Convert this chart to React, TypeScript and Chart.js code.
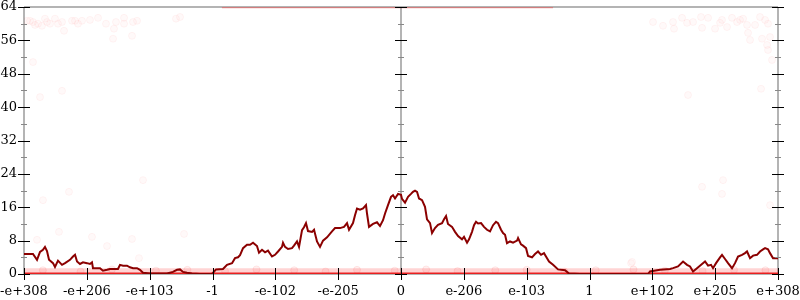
import React, { useEffect, useRef } from "react";
import { Chart, registerables } from "chart.js";

Chart.register(...registerables);

const xTickLabels = ["-e+308", "-e+206", "-e+103", "-1", "-e-102", "-e-205", "0", "e-206", "e-103", "1", "e+102", "e+205", "e+308"];
const yTicks = [0, 8, 16, 24, 32, 40, 48, 56, 64];

const lineX = [0, 0.143, 0.207, 0.255, 0.302, 0.334, 0.366, 0.398, 0.462, 0.493, 0.541, 0.605, 0.653, 0.732, 0.78, 0.812, 0.844, 0.891, 0.939, 1.003, 1.05, 1.082, 1.098, 1.21, 1.257, 1.321, 1.369, 1.496, 1.528, 1.576, 1.639, 1.687, 1.735, 1.799, 1.846, 1.894, 2.005, 2.276, 2.371, 2.435, 2.483, 2.531, 2.594, 2.674, 2.801, 2.992, 3.056, 3.167, 3.231, 3.311, 3.358, 3.406, 3.438, 3.486, 3.549, 3.597, 3.645, 3.708, 3.74, 3.788, 3.836, 3.883, 3.947, 3.995, 4.043, 4.106, 4.122, 4.154, 4.202, 4.265, 4.297, 4.345, 4.377, 4.425, 4.456, 4.488, 4.52, 4.584, 4.616, 4.663, 4.711, 4.759, 4.823, 4.902, 4.95, 5.029, 5.093, 5.141, 5.173, 5.236, 5.268, 5.3, 5.348, 5.396, 5.443, 5.459, 5.491, 5.555, 5.618, 5.666, 5.714, 5.746, 5.793, 5.841, 5.873, 5.905, 5.953, 6.0, 6.016, 6.064, 6.112, 6.159, 6.191, 6.223, 6.255, 6.287, 6.335, 6.382, 6.414, 6.462, 6.494, 6.541, 6.589, 6.653, 6.685, 6.717, 6.748, 6.812, 6.86, 6.908, 6.971, 7.003, 7.051, 7.083, 7.13, 7.162, 7.194, 7.226, 7.274, 7.321, 7.369, 7.417, 7.465, 7.512, 7.544, 7.592, 7.624, 7.656, 7.687, 7.735, 7.783, 7.847, 7.863, 7.91, 7.942, 7.99, 8.022, 8.085, 8.133, 8.181, 8.229, 8.276, 8.324, 8.356, 8.42, 8.499, 8.611, 8.674, 8.849, 9.932, 9.963, 10.123, 10.282, 10.329, 10.409, 10.489, 10.552, 10.6, 10.648, 10.711, 10.791, 10.839, 10.887, 10.934, 10.966, 11.014, 11.078, 11.109, 11.157, 11.205, 11.268, 11.316, 11.364, 11.428, 11.475, 11.507, 11.555, 11.603, 11.666, 11.714, 11.762, 11.794, 11.841, 11.873, 11.921, 12.0];
const lineY = [4.8, 4.8, 3.4, 5.3, 5.8, 6.5, 5.5, 3.4, 2.6, 1.7, 3.2, 2.2, 2.6, 3.4, 4.2, 4.6, 3.0, 2.4, 2.8, 2.6, 2.4, 2.8, 1.4, 1.4, 0.8, 1.0, 1.2, 1.2, 2.2, 2.0, 2.0, 1.6, 1.4, 1.4, 1.0, 0.3, 0.1, 0.1, 0.5, 1.0, 1.1, 0.5, 0.3, 0.1, 0.0, 0.0, 1.1, 1.2, 2.2, 2.6, 3.8, 4.0, 4.5, 6.2, 7.0, 7.0, 7.5, 6.7, 5.1, 5.8, 5.2, 5.6, 4.2, 4.6, 5.4, 6.5, 7.5, 6.5, 6.0, 6.2, 6.8, 7.8, 6.5, 10.5, 11.2, 12.2, 10.3, 10.1, 10.6, 7.8, 6.5, 8.0, 8.8, 10.2, 11.0, 11.0, 11.3, 12.2, 10.6, 12.2, 14.1, 15.7, 15.4, 15.7, 16.5, 14.5, 11.3, 12.0, 12.4, 11.5, 12.9, 14.5, 16.5, 18.5, 18.9, 18.1, 19.2, 19.0, 18.0, 17.1, 18.5, 19.2, 19.7, 20.0, 19.7, 18.1, 17.7, 16.1, 13.1, 12.2, 9.8, 11.0, 11.8, 12.2, 13.1, 13.9, 12.0, 11.3, 10.1, 9.1, 8.3, 8.9, 7.5, 8.3, 10.1, 11.7, 12.5, 12.1, 12.2, 11.3, 10.6, 10.2, 11.7, 12.5, 12.2, 10.6, 9.8, 9.4, 7.4, 7.8, 7.5, 8.0, 8.6, 7.1, 6.8, 6.2, 4.3, 4.0, 4.8, 5.4, 4.6, 5.0, 3.8, 3.0, 2.2, 1.1, 0.9, 0.1, 0.0, 0.0, 0.6, 1.0, 1.2, 1.4, 1.8, 3.0, 2.2, 1.8, 0.6, 1.4, 2.4, 3.0, 2.0, 2.2, 1.4, 2.6, 4.0, 4.6, 3.6, 2.6, 1.4, 2.6, 4.2, 4.6, 5.0, 5.4, 3.8, 4.4, 4.6, 5.4, 5.9, 6.2, 5.9, 5.0, 3.8, 3.8];

const scatterX = [0.048, 0.095, 0.143, 0.175, 0.223, 0.286, 0.334, 0.366, 0.414, 0.493, 0.541, 0.605, 0.637, 0.764, 0.812, 0.859, 0.923, 1.05, 1.178, 1.305, 1.432, 1.464, 1.592, 1.592, 1.735, 1.799, 1.417, 1.719, 0.143, 0.605, 0.255, 2.483, 2.419,
  10.011, 10.17, 10.329, 10.345, 10.473, 10.552, 10.648, 10.775, 10.791, 10.887, 10.998, 11.078, 11.109, 11.189, 11.268, 11.348, 11.396, 11.444, 11.507, 11.523, 11.555, 11.635, 11.714, 11.746, 11.794, 11.826, 11.841, 11.873, 11.841, 11.905, 11.73, 10.568,
  0.302, 0.716, 0.557, 0.207, 1.082, 1.321, 1.719, 1.83, 2.547, 1.894, 10.791, 11.109, 11.125, 11.873, 9.677, 9.661];
const scatterY = [60.7, 60.7, 60.4, 59.7, 60.0, 59.5, 61.2, 60.4, 60.0, 61.2, 60.0, 60.4, 58.3, 60.7, 60.7, 60.0, 60.7, 60.9, 61.4, 60.0, 58.8, 60.4, 61.4, 60.0, 60.4, 60.7, 56.4, 57.1, 50.8, 43.9, 42.4, 61.6, 61.2,
  60.4, 59.5, 60.4, 58.8, 61.4, 60.2, 60.4, 61.6, 59.0, 61.4, 58.8, 60.2, 60.9, 59.2, 61.4, 60.4, 60.9, 61.2, 59.7, 57.8, 56.1, 59.7, 61.6, 56.4, 60.9, 54.9, 60.0, 56.8, 53.7, 51.3, 44.4, 42.9,
  17.7, 19.7, 10.1, 8.2, 8.9, 6.7, 8.4, 3.8, 9.6, 22.5, 20.9, 19.2, 22.5, 16.5, 2.9, 2.6];

const bandX = [0, 12];
const bandTopY = [1.4, 1.4];
const bandTexX = [0.3, 0.9, 1.4, 2.1, 2.6, 3.2, 3.7, 4.3, 4.8, 5.3, 5.9, 6.4, 6.9, 7.5, 8.0, 8.6, 9.1, 9.7, 10.2, 10.8, 11.3, 11.8];
const bandTexY = [0.9, 0.6, 1.1, 0.8, 1.0, 0.7, 1.1, 0.9, 0.6, 1.0, 0.8, 1.1, 0.7, 0.9, 1.0, 0.6, 0.9, 1.1, 0.8, 0.7, 1.0, 0.9];
const topEdgeX = [3.15, 8.42];
const topEdgeY = [64, 64];

const pts = (xs: number[], ys: number[]) => xs.map((x, i) => ({ x, y: ys[i] }));

const axesPlugin = {
  id: "gnuAxes",
  beforeDatasetsDraw(chart: any) {
    const { ctx } = chart;
    const xs = chart.scales.x, ys = chart.scales.y;
    ctx.save();
    ctx.strokeStyle = "#b4b4b4";
    ctx.lineWidth = 2;
    const top = ys.getPixelForValue(64), bot = ys.getPixelForValue(0);
    const l = xs.getPixelForValue(0), r = xs.getPixelForValue(12), c = xs.getPixelForValue(6);
    ctx.beginPath();
    [l, c, r].forEach((px: number) => { ctx.moveTo(px, top); ctx.lineTo(px, bot); });
    ctx.moveTo(l, top); ctx.lineTo(r, top);
    ctx.moveTo(l, bot); ctx.lineTo(r, bot);
    ctx.stroke();
    ctx.restore();
  },
  afterDatasetsDraw(chart: any) {
    const { ctx } = chart;
    const xs = chart.scales.x, ys = chart.scales.y;
    ctx.save();
    ctx.lineWidth = 1;
    const axisXs = [0, 6, 12].map((v) => Math.round(xs.getPixelForValue(v)));
    for (let v = 0; v <= 64; v += 4) {
      const py = Math.round(ys.getPixelForValue(v)) + 0.5;
      const major = v % 8 === 0;
      ctx.strokeStyle = major ? "#000" : "#888";
      const len = major ? 6 : 3;
      ctx.beginPath();
      axisXs.forEach((px) => { ctx.moveTo(px - len, py); ctx.lineTo(px + len, py); });
      ctx.stroke();
    }
    const by = Math.round(ys.getPixelForValue(0));
    ctx.strokeStyle = "#000";
    ctx.beginPath();
    for (let i = 0; i <= 12; i++) {
      const px = Math.round(xs.getPixelForValue(i)) + 0.5;
      ctx.moveTo(px, by - 6); ctx.lineTo(px, by + 6);
    }
    ctx.stroke();
    ctx.restore();
  },
};

export default function App() {
  const ref = useRef<HTMLCanvasElement>(null);
  useEffect(() => {
    document.body.style.margin = "0";
    const font = { family: "'DejaVu Serif', serif", size: 13 };
    const chart = new Chart(ref.current!, {
      type: "line",
      data: {
        datasets: [
          { data: pts(lineX, lineY), borderColor: "#8b0000", borderWidth: 2, pointRadius: 0, fill: false, order: 0 },
          { type: "scatter", data: pts(scatterX, scatterY), pointRadius: 3.5, backgroundColor: "rgba(255,0,0,0.025)", borderColor: "rgba(255,0,0,0.045)", borderWidth: 1, order: 3 } as any,
          { type: "scatter", data: pts(bandTexX, bandTexY), pointRadius: 3.5, backgroundColor: "rgba(255,0,0,0.06)", borderColor: "rgba(255,0,0,0.08)", borderWidth: 1, order: 4 } as any,
          { data: pts(bandX, bandTopY), borderWidth: 0, borderColor: "rgba(0,0,0,0)", backgroundColor: "rgba(255,40,40,0.2)", fill: "origin", pointRadius: 0, order: 5 },
          { data: pts(bandX, [0, 0]), borderColor: "rgba(235,25,25,0.95)", borderWidth: 3, pointRadius: 0, fill: false, order: 2 },
          { data: pts(topEdgeX, topEdgeY), borderColor: "rgba(235,70,70,0.5)", borderWidth: 2.5, pointRadius: 0, fill: false, order: 2 },
        ],
      },
      options: {
        responsive: false,
        animation: false,
        layout: { padding: { top: 7, right: 22, left: 0, bottom: 0 } },
        plugins: { legend: { display: false }, tooltip: { enabled: false } },
        scales: {
          x: {
            type: "linear", min: 0, max: 12,
            grid: { display: false, drawTicks: false }, border: { display: false },
            ticks: { stepSize: 1, autoSkip: false, maxRotation: 0, padding: 10, color: "#000", font, callback: (v: any) => xTickLabels[Math.round(Number(v))] ?? "" },
            afterFit: (s: any) => { s.height = 26; s.paddingLeft = 0; s.paddingRight = 0; },
          },
          y: {
            min: 0, max: 64,
            grid: { display: false, drawTicks: false }, border: { display: false },
            afterBuildTicks: (s: any) => { s.ticks = yTicks.map((v) => ({ value: v })); },
            ticks: { padding: 7, color: "#000", font },
            afterFit: (s: any) => { s.width = 24; s.paddingTop = 0; s.paddingBottom = 0; },
          },
        },
      },
      plugins: [axesPlugin],
    });
    return () => chart.destroy();
  }, []);
  return (
    <div style={{ width: 800, height: 300 }}>
      <canvas ref={ref} width={800} height={300} />
    </div>
  );
}
